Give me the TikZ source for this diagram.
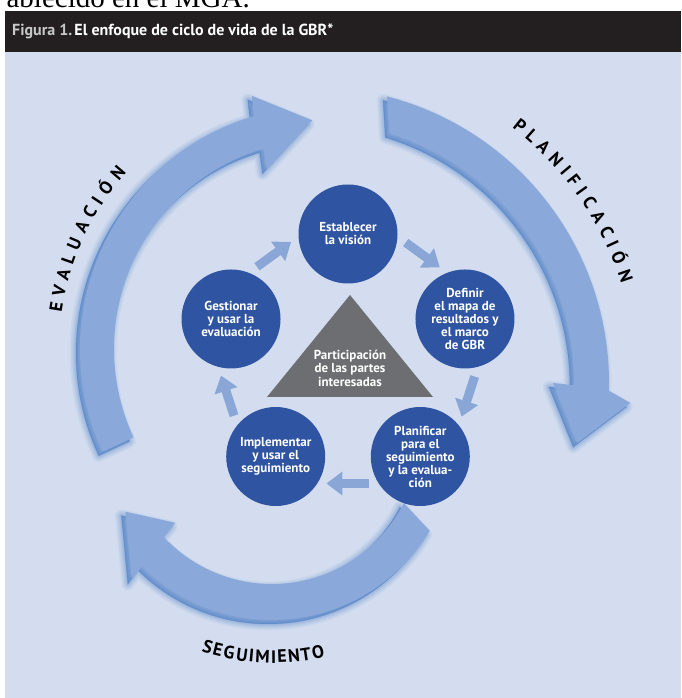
\documentclass[tikz,border=0pt]{standalone}
\usepackage{fontspec}
\setmainfont{Liberation Serif}
\newfontfamily\pts{PT Sans}
\usetikzlibrary{arrows.meta,calc}
\definecolor{panel}{HTML}{D3DDEF}
\definecolor{hdr}{HTML}{231F20}
\definecolor{circ}{HTML}{2F54A2}
\definecolor{tri}{HTML}{6D6E71}
\definecolor{arrowfill}{HTML}{8AA9DA}
\definecolor{arrowshadow}{HTML}{1F5FB8}
\definecolor{smallarrow}{HTML}{8AA6D6}
\definecolor{figgray}{HTML}{C8C8C8}
\def\pathEval{(205:243) arc[start angle=205,end angle=106.5,radius=243] -- (105.7:263) -- (92.7:229) -- (107.5:188) -- (106.5:209) arc[start angle=106.5,end angle=205,radius=209] -- cycle}
\def\pathPlan{(75.5:296) arc[start angle=75.5,end angle=-1.5,radius=296] -- (-3.6:318) -- (-12.8:271) -- (0:240) -- (-0.5:261) arc[start angle=-0.5,end angle=73,radius=261] -- cycle}
\def\pathSeg{(-31:184) arc[start angle=-31,end angle=-135,radius=184] -- (-134.2:201) -- (-152.7:165) -- (-138.1:130) -- (-137:148) arc[start angle=-137,end angle=-27,radius=148] -- cycle}
% #1 name prefix, #2 radius, #3 start angle, #4 sign, #5 tracking, #6 rotation offset, #7 list letter/width(em)
\newcommand\arcword[7]{%
  \gdef\arcacc{0}%
  \foreach \ch/\lw [count=\i] in {#7} {%
    \pgfmathsetmacro\lmid{\arcacc+\lw*18/2}%
    \pgfmathsetmacro\lang{#3+#4*\lmid/#2*57.29578}%
    \node[lbl, rotate=\lang+#6] (#1\i) at (\lang:#2) {\ch};%
    \pgfmathsetmacro\nacc{\arcacc+\lw*18+#5}%
    \xdef\arcacc{\nacc}%
  }%
}
\begin{document}
\begin{tikzpicture}[x=1pt,y=1pt,
  stepcirc/.style={circle, fill=circ, text=white, minimum size=99pt, inner sep=0pt, align=center,
    font=\pts\bfseries\fontsize{13}{13}\selectfont},
  smallarr/.style={draw=smallarrow, line width=9pt, shorten <=2pt, shorten >=1pt,
    -{Triangle[width=23pt,length=16pt]}},
  lbl/.style={inner sep=0pt, anchor=base, text=black, font=\pts\bfseries\fontsize{18}{18}\selectfont},
  bigshadow/.style={arrowshadow, line join=round},
  bigarrow/.style={fill=arrowfill}
]
\useasboundingbox (0,0) rectangle (681,698);
\clip (0,0) rectangle (681,698);
\fill[white] (0,0) rectangle (681,698);
\node[anchor=base east, inner sep=0pt, font=\fontsize{29}{29}\selectfont] (toptext) at (250,690) {ablecido en el MGA.};
% header
\fill[hdr] (5,646) rectangle (681,687);
\node[anchor=base west, inner sep=0pt, text=white, font=\pts\bfseries\fontsize{16}{16}\selectfont] (title) at (12,662)
  {\textcolor{figgray}{Figura 1.}\kern2pt El enfoque de ciclo de vida de la GBR*};
% panel
\fill[panel] (5,0) rectangle (681,646);

% big arrows
\begin{scope}[shift={(323,349)}]
  \foreach \w/\o in {13/0.05,10/0.06,7/0.08,4/0.1,1/0.18}
    \filldraw[bigshadow, opacity=\o, line width=\w pt, shift={(-4,-4)}] \pathEval;
  \fill[bigarrow] \pathEval;
  \arcword{ev}{264}{172.0}{-1}{5.7}{-90}{E/0.53,V/0.6,A/0.62,L/0.48,U/0.68,A/0.62,C/0.6,I/0.28,Ó/0.74,N/0.7}
\end{scope}
\begin{scope}[shift={(313,315)}]
  \foreach \w/\o in {13/0.05,10/0.06,7/0.08,4/0.1,1/0.18}
    \filldraw[bigshadow, opacity=\o, line width=\w pt, shift={(-4,-4)}] \pathPlan;
  \fill[bigarrow] \pathPlan;
  \arcword{pl}{324}{52.1}{-1}{5.7}{-90}{P/0.58,L/0.48,A/0.62,N/0.7,I/0.28,F/0.5,I/0.28,C/0.6,A/0.62,C/0.6,I/0.28,Ó/0.74,N/0.7}
\end{scope}
\begin{scope}[shift={(272,262)}]
  \foreach \w/\o in {13/0.05,10/0.06,7/0.08,4/0.1,1/0.18}
    \filldraw[bigshadow, opacity=\o, line width=\w pt, shift={(-4,-4)}] \pathSeg;
  \fill[bigarrow] \pathSeg;
  \arcword{sg}{227}{-108.1}{1}{1.15}{90}{S/0.53,E/0.53,G/0.68,U/0.68,I/0.28,M/0.86,I/0.28,E/0.53,N/0.7,T/0.55,O/0.74}
\end{scope}

% inner cycle
\coordinate (pc) at (348,341);
\coordinate (tA) at (350,403);
\coordinate (tL) at (267,301);
\coordinate (tR) at (433,301);
\fill[tri] (tA) -- (tL) -- (tR) -- cycle;
\node[align=center, text=white, inner sep=0pt, font=\pts\bfseries\fontsize{13}{13.5}\selectfont] (part) at (350,330)
  {Participación\\de las partes\\interesadas};

\node[stepcirc] (est) at ($(pc)+(90:123)$) {Establecer\\la visión};
\node[stepcirc] (def) at ($(pc)+(18:123)$) {Definir\\el mapa de\\resultados y\\el marco\\de GBR};
\node[stepcirc] (pla) at ($(pc)+(-54:123)$) {Planificar\\para el\\seguimiento\\y la evalua-\\ción};
\node[stepcirc] (imp) at ($(pc)+(-126:123)$) {Implementar\\y usar el\\seguimiento};
\node[stepcirc] (ges) at ($(pc)+(162:123)$) {Gestionar\\y usar la\\evaluación};

\draw[smallarr, transform canvas={shift={(54:27)}}] (est) -- (def);
\draw[smallarr, transform canvas={shift={(-18:27)}}] (def) -- (pla);
\draw[smallarr, transform canvas={shift={(-90:27)}}] (pla) -- (imp);
\draw[smallarr, transform canvas={shift={(-162:27)}}] (imp) -- (ges);
\draw[smallarr, transform canvas={shift={(126:27)}}] (ges) -- (est);
\end{tikzpicture}
\end{document}
